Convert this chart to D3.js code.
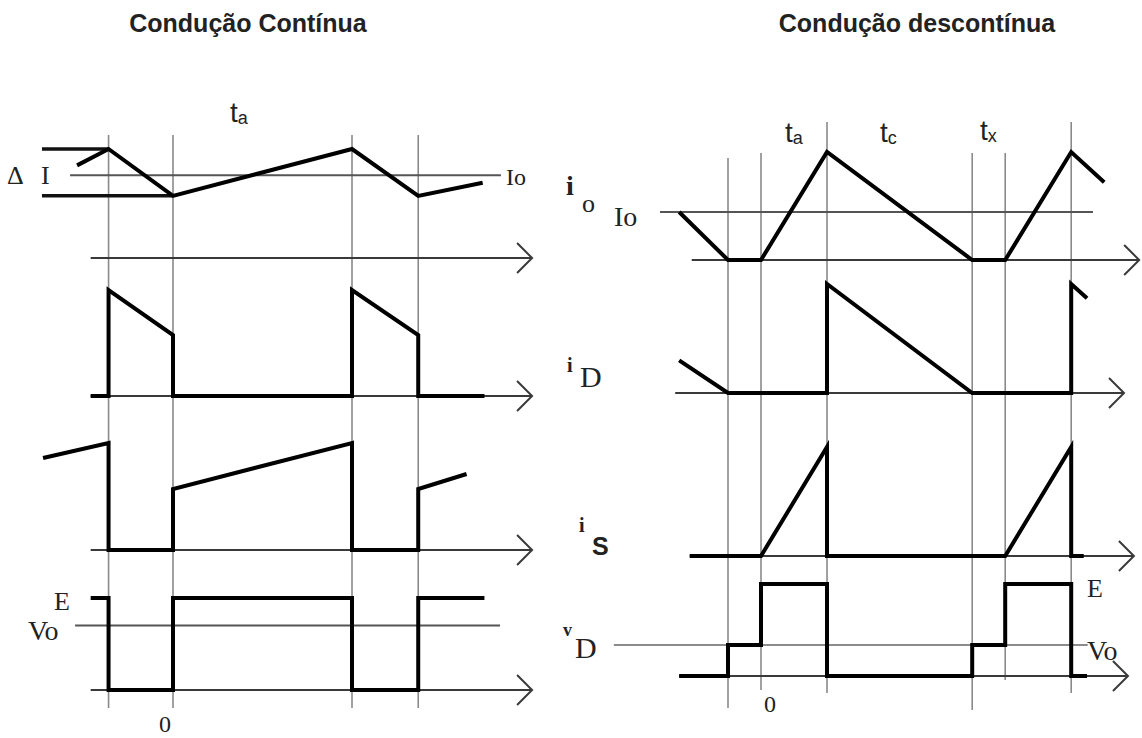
<!DOCTYPE html>
<html>
<head>
<meta charset="utf-8">
<script src="https://cdn.jsdelivr.net/npm/d3@7"></script>
<style>
  body { margin: 0; background: #fff; }
  .serif { font-family: "Liberation Serif", "DejaVu Serif", serif; fill: #222; }
  .sans { font-family: "Liberation Sans", Arial, sans-serif; fill: #222; }
</style>
</head>
<body>
<div id="chart"></div>
<script>
// ---- data: time in arbitrary units, levels normalised to the peak value ----
// condução contínua
const contMarks = [-3.6, 0, 10, 13.7];
const contIo = [[-5.36, 0.85], [-3.6, 1], [0, 0.57], [10, 1], [13.7, 0.57], [17.3, 0.69]];
const contIoLevel = 0.76, contImax = 1, contImin = 0.57;
const contId = [[-4.6, 0], [-3.6, 0], [-3.6, 1], [0, 0.575], [0, 0], [10, 0], [10, 1], [13.7, 0.575], [13.7, 0], [17.4, 0]];
const contIs = [[-7.26, 0.86], [-3.6, 1], [-3.6, 0], [0, 0], [0, 0.57], [10, 1], [10, 0], [13.7, 0], [13.7, 0.57], [16.4, 0.71]];
const contVd = [[-4.6, 1], [-3.6, 1], [-3.6, 0], [0, 0], [0, 1], [10, 1], [10, 0], [13.7, 0], [13.7, 1], [17.4, 1]];
const contVo = 0.70;

// condução descontínua
const discMarks = [-5, 0, 10, 32, 37, 47];
const discIo = [[-12.4, 0.444], [-5, 0], [0, 0], [10, 1], [32, 0], [37, 0], [47, 1], [52, 0.72]];
const discIoLevel = 0.444;
const discId = [[-12.4, 0.30], [-5, 0], [10, 0], [10, 1], [32, 0], [47, 0], [47, 1], [49.4, 0.87]];
const discIs = [[-10.8, 0], [0, 0], [10, 1], [10, 0], [37, 0], [47, 1], [47, 0], [48.9, 0]];
const discVd = [[-12.4, 0], [-5, 0], [-5, 0.337], [0, 0.337], [0, 1], [10, 1], [10, 0], [32, 0], [32, 0.337], [37, 0.337], [37, 1], [47, 1], [47, 0], [49.4, 0]];
const discVo = 0.337;

const width = 1142, height = 738;
const svg = d3.select("#chart").append("svg")
    .attr("width", width)
    .attr("height", height);
svg.append("rect").attr("width", width).attr("height", height).attr("fill", "#fff");

// x scales (one per side)
const xL = d3.scaleLinear().domain([0, 10]).range([173, 352]);
const xR = d3.scaleLinear().domain([0, 10]).range([761, 827]);

// y scales: baseline -> level 1
const yScale = (base, top) => d3.scaleLinear().domain([0, 1]).range([base, top]);
const yLio = yScale(258, 149), yLid = yScale(396, 290), yLis = yScale(550, 443), yLvd = yScale(690, 598);
const yRio = yScale(260, 152), yRid = yScale(393, 284), yRis = yScale(556, 447), yRvd = yScale(676, 584);

const gridG = svg.append("g");
const refG = svg.append("g");
const waveG = svg.append("g");
const textG = svg.append("g");

// vertical time markers
contMarks.forEach(t => {
    gridG.append("line")
        .attr("x1", xL(t)).attr("x2", xL(t))
        .attr("y1", 135).attr("y2", 708)
        .attr("stroke", "#8a8a8a").attr("stroke-width", 1.6);
});
const discTop = [158, 153, 122, 153, 153, 122];
const discBottom = [708, 690, 693, 710, 680, 693];
discMarks.forEach((t, i) => {
    gridG.append("line")
        .attr("x1", xR(t)).attr("x2", xR(t))
        .attr("y1", discTop[i]).attr("y2", discBottom[i])
        .attr("stroke", "#8a8a8a").attr("stroke-width", 1.6);
});

// time axes with open arrow heads
function axis(x, t0, t1, y) {
    const x0 = x(t0), x1 = x(t1);
    refG.append("line")
        .attr("x1", x0).attr("x2", x1).attr("y1", y).attr("y2", y)
        .attr("stroke", "#3a3a3a").attr("stroke-width", 2);
    refG.append("path")
        .attr("d", `M${x1 - 15},${y - 15}L${x1},${y}L${x1 - 15},${y + 15}`)
        .attr("fill", "none").attr("stroke", "#3a3a3a").attr("stroke-width", 2);
}
axis(xL, -4.6, 20.06, yLio(0));
axis(xL, -4.6, 20.06, yLid(0));
axis(xL, -4.6, 20.06, yLis(0));
axis(xL, -4.6, 20.06, yLvd(0));
axis(xR, -10.5, 57.3, yRio(0));
axis(xR, -13.0, 55.0, yRid(0));
axis(xR, -10.8, 56.5, yRis(0));
axis(xR, -12.4, 55.6, yRvd(0));

// reference levels
function hline(x, t0, t1, y, color, w) {
    refG.append("line")
        .attr("x1", x(t0)).attr("x2", x(t1)).attr("y1", y).attr("y2", y)
        .attr("stroke", color).attr("stroke-width", w);
}
hline(xL, -5.75, 18.32, yLio(contIoLevel), "#555", 2);
hline(xL, -7.32, -3.6, yLio(contImax), "#111", 3.5);
hline(xL, -7.32, 0, yLio(contImin), "#111", 3.5);
hline(xL, -5.47, 18.27, yLvd(contVo), "#555", 2);
hline(xR, -15.3, 50.3, yRio(discIoLevel), "#555", 2);
hline(xR, -22.3, 49.5, yRvd(discVo), "#666", 1.6);

// waveforms
function wave(data, x, y) {
    const line = d3.line().x(d => x(d[0])).y(d => y(d[1]));
    waveG.append("path")
        .datum(data)
        .attr("d", line)
        .attr("fill", "none")
        .attr("stroke", "#000")
        .attr("stroke-width", 4)
        .attr("stroke-linejoin", "miter");
}
wave(contIo, xL, yLio);
wave(contId, xL, yLid);
wave(contIs, xL, yLis);
wave(contVd, xL, yLvd);
wave(discIo, xR, yRio);
wave(discId, xR, yRid);
wave(discIs, xR, yRis);
wave(discVd, xR, yRvd);

// titles
textG.append("text").attr("class", "sans")
    .attr("x", 248).attr("y", 32).attr("text-anchor", "middle")
    .attr("font-size", 25).attr("font-weight", "bold")
    .text("Condução Contínua");
textG.append("text").attr("class", "sans")
    .attr("x", 917).attr("y", 32).attr("text-anchor", "middle")
    .attr("font-size", 25).attr("font-weight", "bold")
    .text("Condução descontínua");

// interval labels
function tLabel(x, y, sub) {
    const t = textG.append("text").attr("class", "sans")
        .attr("x", x).attr("y", y).attr("font-size", 28);
    t.append("tspan").text("t");
    t.append("tspan").attr("font-size", 18).attr("dy", 2).text(sub);
}
tLabel(230, 122, "a");
tLabel(785, 142, "a");
tLabel(880, 142, "c");
tLabel(980, 140, "x");

// serif labels
function label(x, y, txt, size, extra) {
    const t = textG.append("text").attr("class", "serif")
        .attr("x", x).attr("y", y).attr("font-size", size).text(txt);
    if (extra) extra(t);
    return t;
}
label(7, 184, "Δ", 26);
label(41, 184, "I", 26);
label(506, 185, "Io", 24);
label(54, 610, "E", 26);
label(28, 640, "Vo", 28);
label(165, 732, "0", 24, t => t.attr("text-anchor", "middle"));
label(770, 712, "0", 24, t => t.attr("text-anchor", "middle"));
label(1087, 597, "E", 26);
label(1087, 660, "Vo", 28);
label(614, 226, "Io", 28);

// io
label(566, 195, "i", 28, t => t.attr("font-weight", "bold"));
label(582, 212, "o", 26);
// iD
label(567, 372, "i", 20, t => t.attr("font-weight", "bold"));
label(580, 387, "D", 30);
// iS
label(579, 532, "i", 20, t => t.attr("font-weight", "bold"));
textG.append("text").attr("class", "sans")
    .attr("x", 592).attr("y", 555).attr("font-size", 25).attr("font-weight", "bold")
    .text("S");
// vD
label(563, 636, "v", 18, t => t.attr("font-weight", "bold"));
label(575, 658, "D", 30);
</script>
</body>
</html>
